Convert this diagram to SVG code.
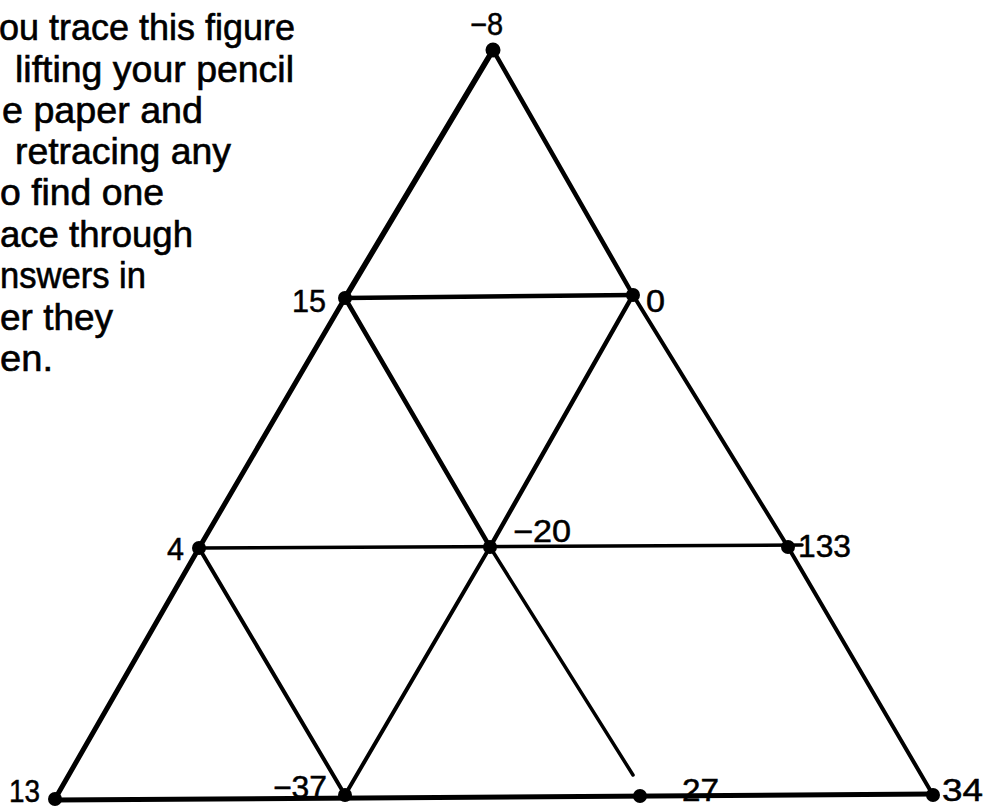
<svg xmlns="http://www.w3.org/2000/svg" width="985" height="809" viewBox="0 0 985 809">
<style>
.txt{font-family:"Liberation Sans",Arial,Helvetica,sans-serif;font-size:36px;fill:#000;stroke:#000;stroke-width:0.6}
.lbl{font-family:"Liberation Sans",Arial,Helvetica,sans-serif;font-size:31px;fill:#000;stroke:#000;stroke-width:0.5}
.e{stroke:#000;stroke-linecap:round;fill:none}
.dot{fill:#000}
</style>
<rect width="985" height="809" fill="#fff"/>
<g id="instructions">
<text class="txt" x="-1" y="40" textLength="296" lengthAdjust="spacingAndGlyphs">ou trace this figure</text>
<text class="txt" x="15" y="82" textLength="279" lengthAdjust="spacingAndGlyphs">lifting your pencil</text>
<text class="txt" x="2" y="123" textLength="201" lengthAdjust="spacingAndGlyphs">e paper and</text>
<text class="txt" x="15" y="164" textLength="216" lengthAdjust="spacingAndGlyphs">retracing any</text>
<text class="txt" x="0" y="205" textLength="164" lengthAdjust="spacingAndGlyphs">o find one</text>
<text class="txt" x="0" y="247" textLength="193" lengthAdjust="spacingAndGlyphs">ace through</text>
<text class="txt" x="0" y="288" textLength="146" lengthAdjust="spacingAndGlyphs">nswers in</text>
<text class="txt" x="0" y="330" textLength="113" lengthAdjust="spacingAndGlyphs">er they</text>
<text class="txt" x="0" y="371" textLength="53" lengthAdjust="spacingAndGlyphs">en.</text>
</g>
<g id="connectors">
<line class="e" x1="493" y1="50" x2="345" y2="298" stroke-width="5.5"/>
<line class="e" x1="345" y1="298" x2="199" y2="548" stroke-width="5"/>
<line class="e" x1="199" y1="548" x2="55" y2="799" stroke-width="5"/>
<line class="e" x1="493" y1="50" x2="633" y2="295" stroke-width="4.5"/>
<line class="e" x1="633" y1="295" x2="788" y2="547" stroke-width="4"/>
<line class="e" x1="788" y1="547" x2="933" y2="795" stroke-width="4"/>
<line class="e" x1="345" y1="298" x2="633" y2="295" stroke-width="4.5"/>
<line class="e" x1="345" y1="298" x2="490" y2="547" stroke-width="4.5"/>
<line class="e" x1="490" y1="547" x2="633" y2="775" stroke-width="3.5"/>
<line class="e" x1="633" y1="295" x2="490" y2="547" stroke-width="4.5"/>
<line class="e" x1="490" y1="547" x2="345" y2="795" stroke-width="4"/>
<line class="e" x1="199" y1="548" x2="345" y2="795" stroke-width="4"/>
<line class="e" x1="199" y1="548" x2="802" y2="545" stroke-width="3.5"/>
<line class="e" x1="55" y1="800" x2="933" y2="794" stroke-width="5"/>
</g>
<g id="n-minus8"><circle class="dot" cx="493" cy="50" r="7.5"/><text class="lbl" x="470" y="35" textLength="33" lengthAdjust="spacingAndGlyphs">−8</text></g>
<g id="n-15"><circle class="dot" cx="345" cy="298" r="7"/><text class="lbl" x="292" y="312" textLength="34" lengthAdjust="spacingAndGlyphs">15</text></g>
<g id="n-0"><circle class="dot" cx="633" cy="295" r="7"/><text class="lbl" x="646" y="312" textLength="19" lengthAdjust="spacingAndGlyphs">0</text></g>
<g id="n-4"><circle class="dot" cx="199" cy="548" r="7"/><text class="lbl" x="167" y="560" textLength="17" lengthAdjust="spacingAndGlyphs">4</text></g>
<g id="n-minus20"><circle class="dot" cx="490" cy="547" r="7"/><text class="lbl" x="513" y="542" textLength="58" lengthAdjust="spacingAndGlyphs">−20</text></g>
<g id="n-133"><circle class="dot" cx="788" cy="547" r="7"/><text class="lbl" x="798" y="557" textLength="53" lengthAdjust="spacingAndGlyphs">133</text></g>
<g id="n-13"><circle class="dot" cx="55" cy="799" r="7"/><text class="lbl" x="9" y="802" textLength="31" lengthAdjust="spacingAndGlyphs">13</text></g>
<g id="n-minus37"><circle class="dot" cx="345" cy="795" r="7"/><text class="lbl" x="273" y="798" textLength="54" lengthAdjust="spacingAndGlyphs">−37</text></g>
<g id="n-27"><circle class="dot" cx="640" cy="796" r="7"/><text class="lbl" x="682" y="801" textLength="37" lengthAdjust="spacingAndGlyphs">27</text></g>
<g id="n-34"><circle class="dot" cx="933" cy="795" r="7"/><text class="lbl" x="942" y="801" textLength="41" lengthAdjust="spacingAndGlyphs">34</text></g>
</svg>
